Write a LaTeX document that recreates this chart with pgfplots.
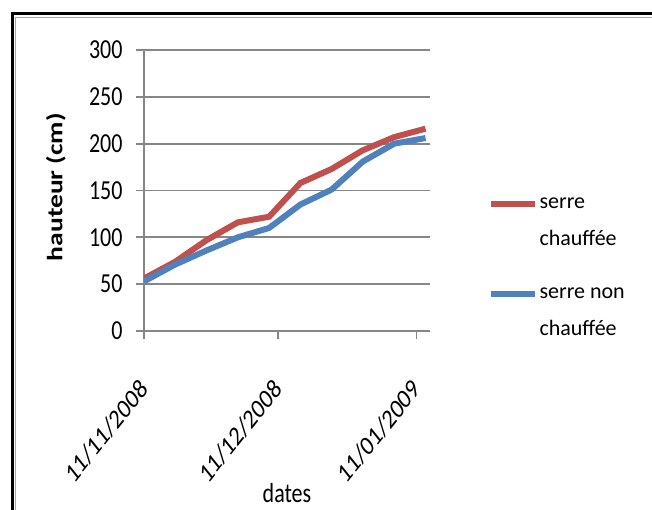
\documentclass[border=0pt]{standalone}
\usepackage{pgfplots}
\pgfplotsset{compat=1.18}
\usepackage{fontspec}
\setmainfont{Carlito}
\definecolor{redS}{RGB}{192,80,77}
\definecolor{blueS}{RGB}{79,129,189}
\definecolor{gridg}{RGB}{134,134,134}
\newcommand{\dlab}[1]{\scalebox{1}[1.25]{\rotatebox{45}{#1}}}
\begin{document}
\begin{tikzpicture}[x=1pt,y=1pt]
\useasboundingbox (0,0) rectangle (652,510);
\fill[white] (0,0) rectangle (652,510);
\draw[line width=3pt,black] (12,-5) -- (12,496) -- (660,496);
\draw[line width=1.6pt,gray!70] (15.5,-5) -- (15.5,492.5) -- (660,492.5);
\begin{axis}[
  scale only axis, width=286pt, height=281pt,
  at={(144pt,179pt)}, anchor=south west,
  xmin=0, xmax=64, ymin=0, ymax=300,
  axis x line*=bottom, axis y line*=left,
  axis line style={gridg, line width=2.2pt, -},
  ytick={0,50,...,300}, ymajorgrids,
  grid style={gridg, line width=1.8pt},
  tick style={gridg, line width=1.8pt},
  major tick length=8pt, tick align=outside,
  xtick={0,30,61}, xticklabels={\dlab{11/11/2008},\dlab{11/12/2008},\dlab{11/01/2009}},
  xticklabel style={anchor=north east, xshift=6pt, yshift=-38pt, inner sep=0pt, font=\fontsize{22}{22}\selectfont},
  yticklabel={\scalebox{1}[1.25]{\pgfmathprintnumber{\tick}}},
  yticklabel style={xshift=-10pt, font=\fontsize{22}{22}\selectfont},
  /pgf/number format/assume math mode=true,
  xlabel={\scalebox{1}[1.25]{dates}}, ylabel={\scalebox{1.25}[1]{\textbf{hauteur (cm)}}},
  xlabel style={at={(axis description cs:0.5,-0.578)}, anchor=center, font=\fontsize{22}{22}\selectfont},
  ylabel style={at={(axis description cs:-0.308,0.512)}, anchor=center, font=\fontsize{22}{22}\selectfont},
  legend style={at={(1.19,0.489)}, anchor=north west, draw=none, fill=none,
    font=\fontsize{22}{37}\selectfont, cells={align=left, anchor=west}, row sep=37pt},
  legend image code/.code={\draw[#1, line width=6pt] (0pt,18.5pt) -- (44pt,18.5pt);},
]
\addplot[redS, line width=6pt] coordinates {
 (0,56) (7,74) (14,97) (21,116) (28,122) (35,158) (42,173) (49,193) (56,207) (63,216)};
\addlegendentry{serre\\chauffée}
\addplot[blueS, line width=6pt] coordinates {
 (0,53) (7,71) (14,86) (21,100) (28,110) (35,135) (42,151) (49,181) (56,200) (63,206)};
\addlegendentry{serre non\\chauffée}
\end{axis}
\end{tikzpicture}
\end{document}
